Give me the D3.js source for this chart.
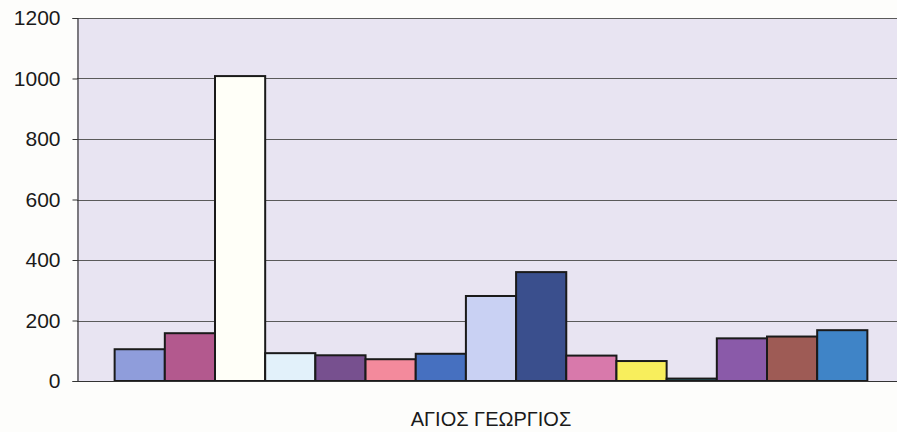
<!DOCTYPE html>
<html>
<head>
<meta charset="utf-8">
<script src="https://cdn.jsdelivr.net/npm/d3@7"></script>
<style>
  html, body { margin: 0; padding: 0; background: #fdfdfb; }
  svg { display: block; }
  text { font-family: "Liberation Sans", Arial, sans-serif; }
</style>
</head>
<body>
<svg id="chart" width="897" height="432"></svg>
<script>
const category = "ΑΓΙΟΣ ΓΕΩΡΓΙΟΣ";
const seriesNames = ["S1","S2","S3","S4","S5","S6","S7","S8","S9","S10","S11","S12","S13","S14","S15"];
const seriesValues = [105, 158, 1008, 92, 85, 72, 90, 281, 360, 84, 66, 8, 141, 147, 168];
const seriesColors = ["#8f9ddb","#b3598e","#fffff8","#e2f1fa","#77508f","#f38a9c","#4670c0",
                      "#c9d1f3","#3a4f8d","#d879ab","#f8ee5c","#2f6f7a","#8a5aa9","#9e5b55","#3f84c7"];
const yTicks = [0, 200, 400, 600, 800, 1000, 1200];

(function () {
const svg = d3.select("#chart");
const pl = 77, pr = 905, pt = 18, pb = 381;

// plot background
svg.append("rect")
  .attr("x", pl).attr("y", pt)
  .attr("width", pr - pl).attr("height", pb - pt)
  .attr("fill", "#e8e4f2");

const y = d3.scaleLinear().domain([0, 1200]).range([pb, pt]);
const x = d3.scaleBand().domain(seriesNames).range([pl, pr])
  .paddingInner(0).paddingOuter(0.75);

// gridlines
svg.append("g")
  .selectAll("line").data(yTicks.filter(d => d > 0)).join("line")
  .attr("x1", pl).attr("x2", pr)
  .attr("y1", d => Math.round(y(d)) + 0.5).attr("y2", d => Math.round(y(d)) + 0.5)
  .attr("stroke", "#5a5a5a").attr("stroke-width", 1);

// y axis
const yAxis = d3.axisLeft(y).tickValues(yTicks).tickFormat(d3.format("d")).tickSize(5).tickPadding(12);
const gy = svg.append("g").attr("transform", `translate(${pl + 0.5},0)`).call(yAxis);
gy.select(".domain").attr("stroke", "#333").attr("stroke-width", 1.2);
gy.selectAll(".tick line").attr("stroke", "#333");
gy.selectAll(".tick text").attr("font-size", 21).attr("fill", "#1a1a1a")
  .attr("font-family", "'Liberation Sans', Arial, sans-serif");

// bars
svg.append("g")
  .selectAll("rect").data(seriesNames.map((n, i) => ({name: n, value: seriesValues[i], color: seriesColors[i]})))
  .join("rect")
  .attr("x", d => x(d.name))
  .attr("y", d => y(d.value))
  .attr("width", x.bandwidth())
  .attr("height", d => pb - y(d.value))
  .attr("fill", d => d.color)
  .attr("stroke", "#1a1a1a").attr("stroke-width", 2);

// x axis baseline
svg.append("line")
  .attr("x1", pl).attr("x2", pr)
  .attr("y1", pb + 0.5).attr("y2", pb + 0.5)
  .attr("stroke", "#333").attr("stroke-width", 1.2);

// category label
svg.append("text")
  .attr("x", (pl + pr) / 2)
  .attr("y", 426)
  .attr("text-anchor", "middle")
  .attr("font-size", 20)
  .attr("fill", "#1a1a1a")
  .text(category);
})();
</script>
</body>
</html>
